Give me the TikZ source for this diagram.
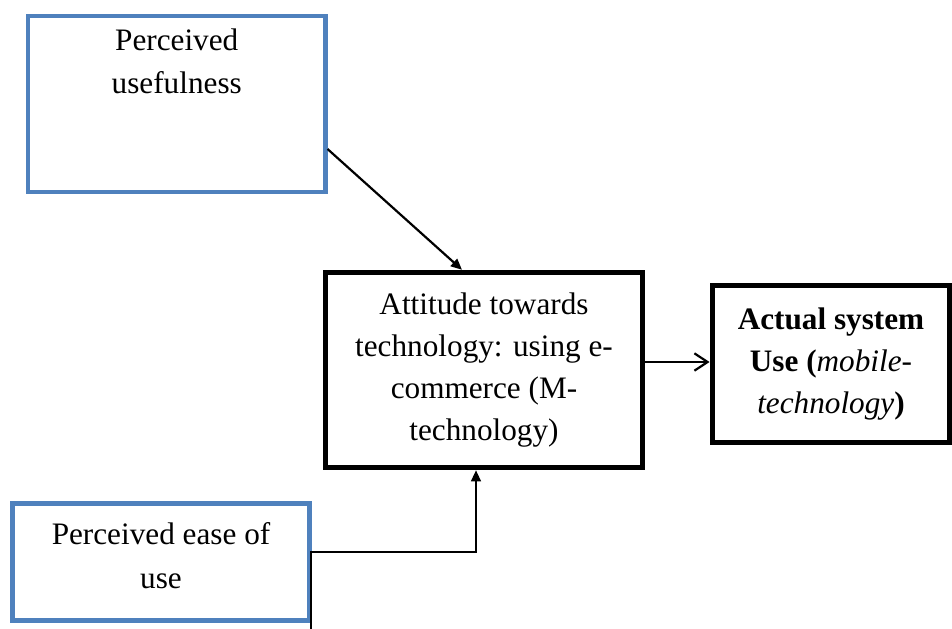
\documentclass[tikz,border=0pt]{standalone}
\usepackage{fontspec}
\setmainfont{Liberation Serif}
\usetikzlibrary{arrows.meta,positioning,calc}
\definecolor{TamBlue}{RGB}{79,129,189}
\tikzset{
  construto/.style={draw=TamBlue, line width=1.8pt, inner sep=0pt},
  atitude/.style={draw=black, line width=2.2pt, inner sep=0pt, align=center,
                font=\fontsize{12.8}{17.2}\selectfont},
  resultado/.style={draw=black, line width=2.2pt, inner sep=0pt, align=center,
                font=\fontsize{12.8}{17.2}\selectfont},
  rotulo/.style={align=center, font=\fontsize{12.8}{17.8}\selectfont, inner sep=0pt},
  relacao/.style={-{Triangle[length=1.6mm,width=1.4mm]}, line width=0.9pt},
  relacaoaberta/.style={-{Straight Barb[length=1.9mm,width=2.5mm]}, line width=0.9pt},
}

\begin{document}
\begin{tikzpicture}[x=0.0144cm, y=-0.0144cm]
  \useasboundingbox (0,0) rectangle (952,628);

  \node[construto,minimum width=4.28cm,minimum height=2.54cm] (useful) at (176.75, 104)
    [label={[rotulo,anchor=north,yshift=-0.21cm]north:{Perceived\\usefulness}}] {};
  \node[construto,minimum width=4.28cm,minimum height=1.685cm] (ease) at (161, 562)
    [label={[rotulo,yshift=0.09cm]center:{Perceived ease of\\use}}] {};

  \node[atitude,minimum width=4.56cm,minimum height=2.81cm] (attitude) at (484, 370)
    {Attitude towards\\ technology: using e-\\ commerce (M-\\ technology)};

  \node[resultado,minimum width=3.42cm,minimum height=2.26cm] (actual) at (831, 364)
    {\textbf{Actual system}\\ \textbf{Use (}\textit{mobile-}\\ \textit{technology}\textbf{)}};

  \coordinate (tail) at (311, 634);

  \draw[relacao] ($(useful.east)+(0,45)$) -- ($(attitude.north)+(-22,0)$);
  \draw[relacaoaberta] ($(attitude.east)+(0,-8)$) -- ($(attitude.east -| actual.west)+(0,-8)$);
  \draw[relacao] (tail) -- ++(0,-82) -| ($(attitude.south)+(-8,0)$);

\end{tikzpicture}
\end{document}
